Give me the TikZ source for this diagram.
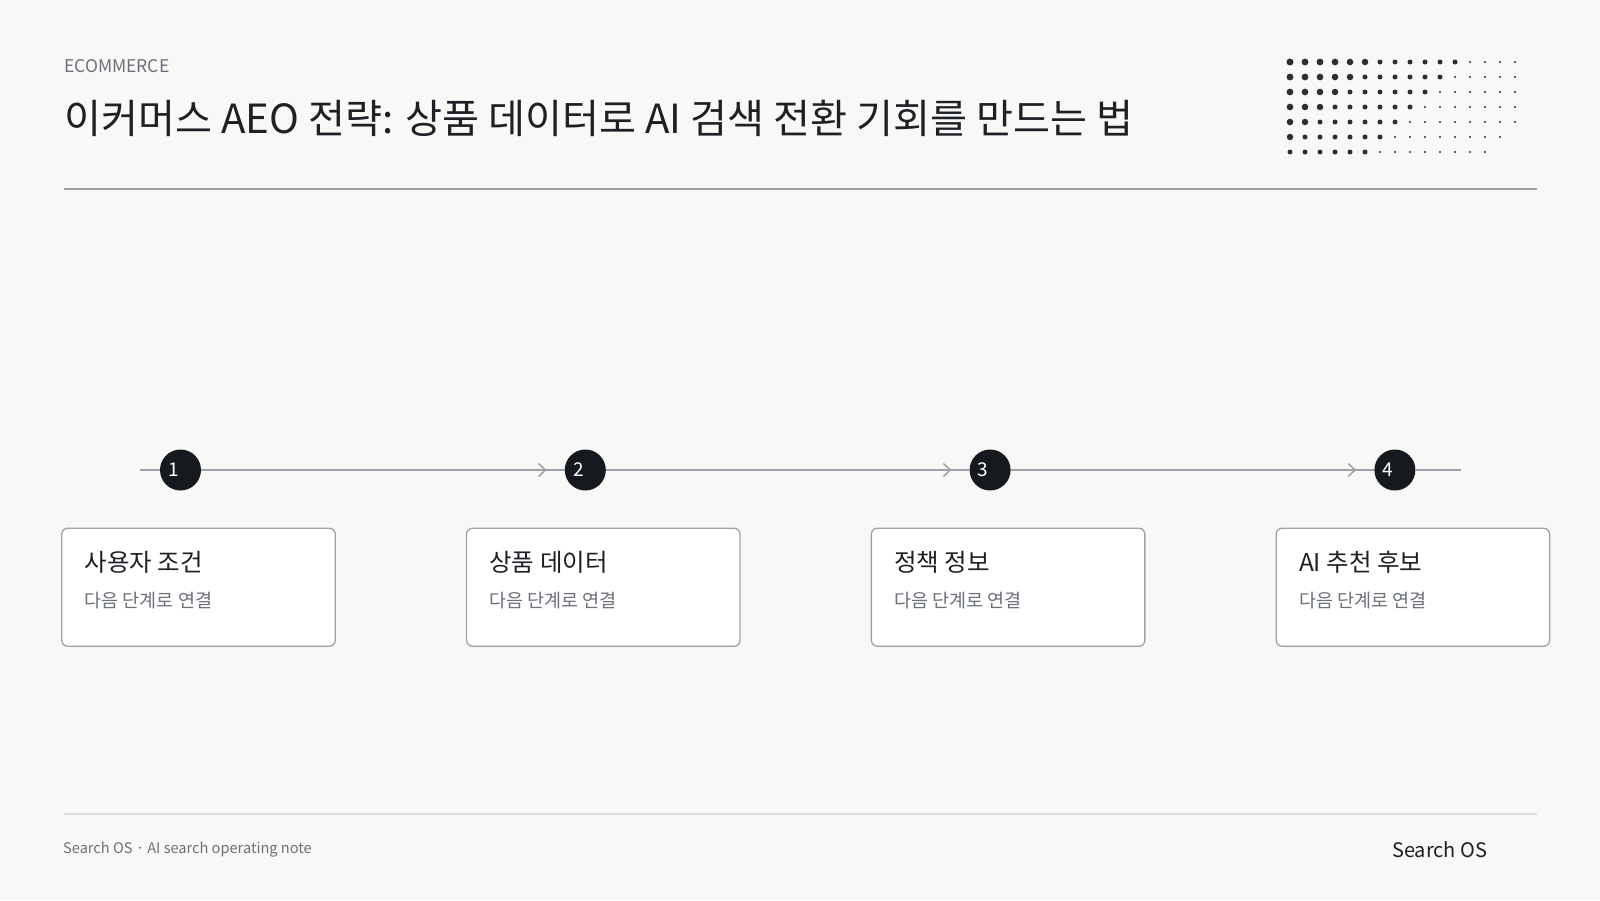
\documentclass[tikz,border=0pt]{standalone}
\usepackage{fontspec}
\setmainfont{Noto Sans CJK KR}
\usetikzlibrary{arrows.meta,calc}
\definecolor{pagebg}{RGB}{248,248,247}
\definecolor{inkdark}{RGB}{29,32,37}
\definecolor{inkgray}{RGB}{107,112,121}
\definecolor{rulegray}{RGB}{157,161,169}
\definecolor{stepdark}{RGB}{22,25,29}
\definecolor{footrule}{RGB}{221,224,227}
\definecolor{dotdark}{RGB}{43,46,52}

\begin{document}
\begin{tikzpicture}[x=1pt, y=-1pt,
  stepdot/.style={circle, fill=stepdark, minimum size=41pt, inner sep=0pt},
  card/.style={draw=rulegray, line width=1.3pt, fill=white, rounded corners=6pt,
    minimum width=273.5pt, minimum height=118pt, anchor=north west, inner sep=0pt},
  cardtitle/.style={anchor=base west, text=inkdark, font=\fontsize{24.5}{28}\selectfont},
  cardsub/.style={anchor=base west, text=inkgray, font=\fontsize{18.5}{22}\selectfont},
  track/.style={draw=rulegray, line width=2pt}]
  \fill[pagebg] (0,0) rectangle (1600,900);
  \useasboundingbox (0,0) rectangle (1600,900);

  % header
  \node[anchor=base west, inner sep=0pt, text=inkgray, font=\fontsize{17.5}{21}\selectfont] (kicker) at (64,72) {ECOMMERCE};
  \node[anchor=base west, inner sep=0pt, text=inkdark, font=\fontsize{40.2}{46}\selectfont] (title) at (64,133)
    {이커머스 AEO 전략: 상품 데이터로 AI 검색 전환 기회를 만드는 법};
  \draw[rulegray, line width=1.5pt] (64,189) -- (1537,189);

  % dot pattern
  \foreach \r in {0,...,6}{
    \foreach \c in {0,...,15}{
      \pgfmathtruncatemacro{\s}{\c+\r}
      \ifnum\s<20
        \pgfmathsetmacro{\rad}{\s<6 ? 3.5-0.05*\s : (\s<12 ? 2.5 : 1.1)}
        \fill[dotdark] (1290+15*\c, 62+15*\r) circle (\rad);
      \fi
    }
  }

  % steps
  \coordinate (tstart) at (140,470);
  \coordinate (tend) at (1461,470);
  \foreach \i/\name in {1/사용자 조건, 2/상품 데이터, 3/정책 정보, 4/AI 추천 후보}{
    \pgfmathsetmacro{\cx}{180.5+404.8*(\i-1)}
    \node[stepdot, label={[text=white, xshift=-7pt, font=\fontsize{19}{22}\selectfont]center:\i}] (n\i) at (\cx,470) {};
    \node[card] (b\i) at (\cx-119.4,527.6) {};
    \node[cardtitle] (t\i) at ([xshift=20pt, yshift=-43.4pt]b\i.north west) {\name};
    \node[cardsub] (s\i) at ([xshift=20pt, yshift=-79.4pt]b\i.north west) {다음 단계로 연결};
  }
  \draw[track] (tstart) -- (n1);
  \draw[track] (n4) -- (tend);
  \foreach \a/\b in {1/2, 2/3, 3/4}{
    \draw[track] (n\a) -- (n\b);
    \draw[track, -{Straight Barb[length=7pt, width=13pt, line width=1.5pt]}, shorten >=18pt] (n\a) -- (n\b);
  }

  % footer
  \draw[footrule, line width=1.5pt] (64,814) -- (1537,814);
  \node[anchor=base west, inner sep=0pt, text=inkgray, font=\fontsize{14.6}{18}\selectfont] (footnote) at (63,853)
    {Search OS · AI search operating note};
  \node[anchor=base west, inner sep=0pt, text=inkdark, font=\fontsize{20}{24}\selectfont] (brand) at (1392,857) {Search OS};
\end{tikzpicture}
\end{document}
